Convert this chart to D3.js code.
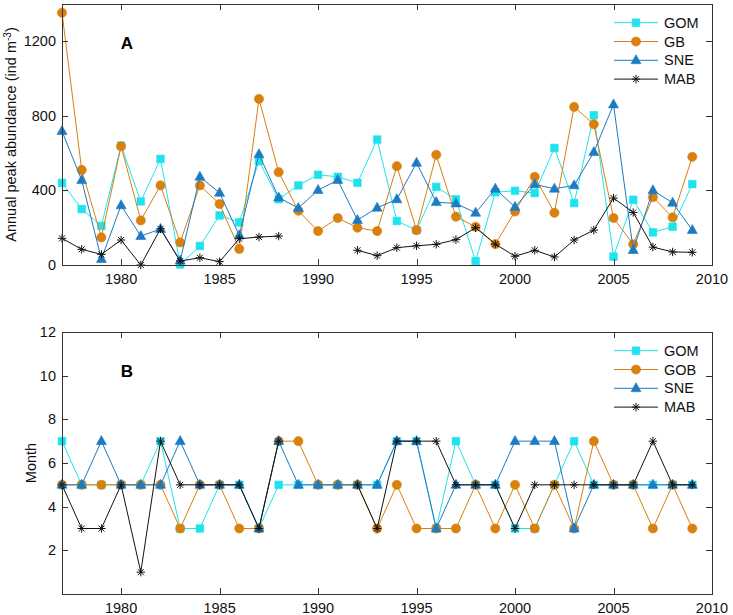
<!DOCTYPE html>
<html>
<head>
<meta charset="utf-8">
<script src="https://cdn.jsdelivr.net/npm/d3@7"></script>
<style>
  html, body { margin: 0; padding: 0; background: #fff; }
  svg { display: block; }
  text { font-family: "Liberation Sans", Arial, sans-serif; }
</style>
</head>
<body>
<svg id="chart" width="733" height="615"></svg>
<script>
// ---------- DATA ----------
const years = d3.range(1977, 2010); // 1977..2009

// Panel A: annual peak abundance (ind m^-3)
const abundGOM = [440,300,210,640,341,569,3,102,266,229,557,353,427,484,473,441,673,236,187,419,352,21,390,398,386,628,332,803,45,350,175,205,434];
const abundGB  = [1353,510,148,637,239,427,121,427,327,86,891,498,291,182,252,200,182,530,187,591,259,205,112,287,473,280,848,755,252,111,364,255,580];
const abundSNE = [718,455,32,320,155,193,23,473,387,159,594,362,305,402,455,241,307,352,548,337,330,280,409,311,432,409,427,605,861,80,400,334,187];
const abundMAB = [143,84,57,134,0,194,21,39,18,141,150,155,null,null,null,79,50,93,103,111,136,200,112,47,79,43,134,187,359,282,96,70,68];

// Panel B: month of peak
const monthGOM = [7,5,5,5,5,7,3,3,5,5,3,5,5,5,5,5,5,7,7,3,7,5,5,3,3,5,7,5,5,5,5,5,5];
const monthGOB = [5,5,5,5,5,5,3,5,5,3,3,7,7,5,5,5,3,5,3,3,3,5,3,5,3,5,3,7,5,5,3,5,3];
const monthSNE = [5,5,7,5,5,5,7,5,5,5,3,7,5,5,5,5,5,7,7,3,5,5,5,7,7,7,3,5,5,5,5,5,5];
const monthMAB = [5,3,3,5,1,7,5,5,5,5,3,7,null,null,null,5,3,7,7,7,5,5,5,3,5,5,5,5,5,5,7,5,5];

const xTicks = [1980, 1985, 1990, 1995, 2000, 2005, 2010];
const yTicksA = [0, 400, 800, 1200];
const yTicksB = [2, 4, 6, 8, 10, 12];
const legendA = ["GOM", "GB", "SNE", "MAB"];
const legendB = ["GOM", "GOB", "SNE", "MAB"];

// ---------- STYLE ----------
const colors = ["#1FE3EC", "#D9800F", "#1C7BC2", "#111111"];
const shapes = ["square", "circle", "triangle", "asterisk"];
const axisColor = "#333";
const fontSize = 14.5;

const svg = d3.select("#chart");
const x = d3.scaleLinear().domain([1977, 2010]).range([62, 712]);

function markerPath(shape) {
  if (shape === "square") { const s = 3.8; return `M${-s},${-s}H${s}V${s}H${-s}Z`; }
  if (shape === "circle") { const r = 4.6; return `M${r},0A${r},${r} 0 1,1 ${-r},0A${r},${r} 0 1,1 ${r},0Z`; }
  if (shape === "triangle") { return `M0,-5.6L5,3.4L-5,3.4Z`; }
  const a = 4.2, d = 3.0;
  return `M${-a},0H${a}M0,${-a}V${a}M${-d},${-d}L${d},${d}M${-d},${d}L${d},${-d}`;
}
function drawMarker(g, shape, color, cx, cy) {
  const p = g.append("path").attr("d", markerPath(shape)).attr("transform", `translate(${cx},${cy})`);
  if (shape === "asterisk") p.attr("fill", "none").attr("stroke", color).attr("stroke-width", 1);
  else p.attr("fill", color).attr("stroke", color).attr("stroke-width", 0.6);
}

function panel(cfg) {
  const y = d3.scaleLinear().domain(cfg.domain).range([cfg.bottom, cfg.top]);
  const g = svg.append("g");
  const [x0, x1] = x.range();
  const top = cfg.top, bottom = cfg.bottom;

  // series
  cfg.series.forEach((vals, i) => {
    const pts = years.map((yr, k) => ({ yr, v: vals[k] }));
    const line = d3.line().defined(d => d.v !== null).x(d => x(d.yr)).y(d => y(d.v));
    g.append("path").datum(pts).attr("d", line).attr("fill", "none")
      .attr("stroke", colors[i]).attr("stroke-width", 1);
    pts.filter(d => d.v !== null).forEach(d => drawMarker(g, shapes[i], colors[i], x(d.yr), y(d.v)));
  });

  // box
  g.append("rect").attr("x", x0 + 0.5).attr("y", top + 0.5).attr("width", x1 - x0).attr("height", bottom - top)
    .attr("fill", "none").attr("stroke", axisColor).attr("stroke-width", 1);

  // x ticks (bottom + top, inward)
  const tl = 6;
  xTicks.forEach(t => {
    const px = Math.round(x(t)) + 0.5;
    g.append("line").attr("x1", px).attr("x2", px).attr("y1", bottom).attr("y2", bottom - tl).attr("stroke", axisColor);
    g.append("line").attr("x1", px).attr("x2", px).attr("y1", top).attr("y2", top + tl).attr("stroke", axisColor);
    g.append("text").attr("x", x(t)).attr("y", bottom + 19).attr("text-anchor", "middle")
      .attr("font-size", fontSize).attr("fill", "#111").text(t);
  });
  // y ticks (left + right, inward)
  cfg.yTicks.forEach(t => {
    const py = Math.round(y(t)) + 0.5;
    g.append("line").attr("x1", x0).attr("x2", x0 + tl).attr("y1", py).attr("y2", py).attr("stroke", axisColor);
    g.append("line").attr("x1", x1).attr("x2", x1 - tl).attr("y1", py).attr("y2", py).attr("stroke", axisColor);
    g.append("text").attr("x", x0 - 6).attr("y", y(t) + 5).attr("text-anchor", "end")
      .attr("font-size", fontSize).attr("fill", "#111").text(t);
  });

  // y label
  const lab = g.append("text").attr("transform", `translate(${cfg.labelX},${(top + bottom) / 2}) rotate(-90)`)
    .attr("text-anchor", "middle").attr("font-size", fontSize).attr("fill", "#111");
  cfg.label(lab);

  // panel letter
  g.append("text").attr("x", 127).attr("y", cfg.letterY).attr("text-anchor", "middle")
    .attr("font-size", 17).attr("font-weight", "bold").attr("fill", "#000").text(cfg.letter);

  // legend
  cfg.legend.forEach((name, i) => {
    const ly = cfg.legendY + i * 18.8;
    g.append("line").attr("x1", 614).attr("x2", 658).attr("y1", ly).attr("y2", ly)
      .attr("stroke", colors[i]).attr("stroke-width", 1);
    drawMarker(g, shapes[i], colors[i], 636, ly);
    g.append("text").attr("x", 664).attr("y", ly + 5).attr("font-size", fontSize).attr("fill", "#111").text(name);
  });
}

panel({
  domain: [0, 1400], top: 4, bottom: 265,
  series: [abundGOM, abundGB, abundSNE, abundMAB],
  yTicks: yTicksA, legend: legendA, legendY: 22.7,
  letter: "A", letterY: 49, labelX: 16,
  label: t => { t.append("tspan").text("Annual peak abundance (ind m");
               t.append("tspan").attr("dy", -5).attr("font-size", 10).text("-3");
               t.append("tspan").attr("dy", 5).text(")"); }
});

panel({
  domain: [0, 12], top: 332, bottom: 594,
  series: [monthGOM, monthGOB, monthSNE, monthMAB],
  yTicks: yTicksB, legend: legendB, legendY: 350.7,
  letter: "B", letterY: 377, labelX: 36,
  label: t => t.text("Month")
});
</script>
</body>
</html>
